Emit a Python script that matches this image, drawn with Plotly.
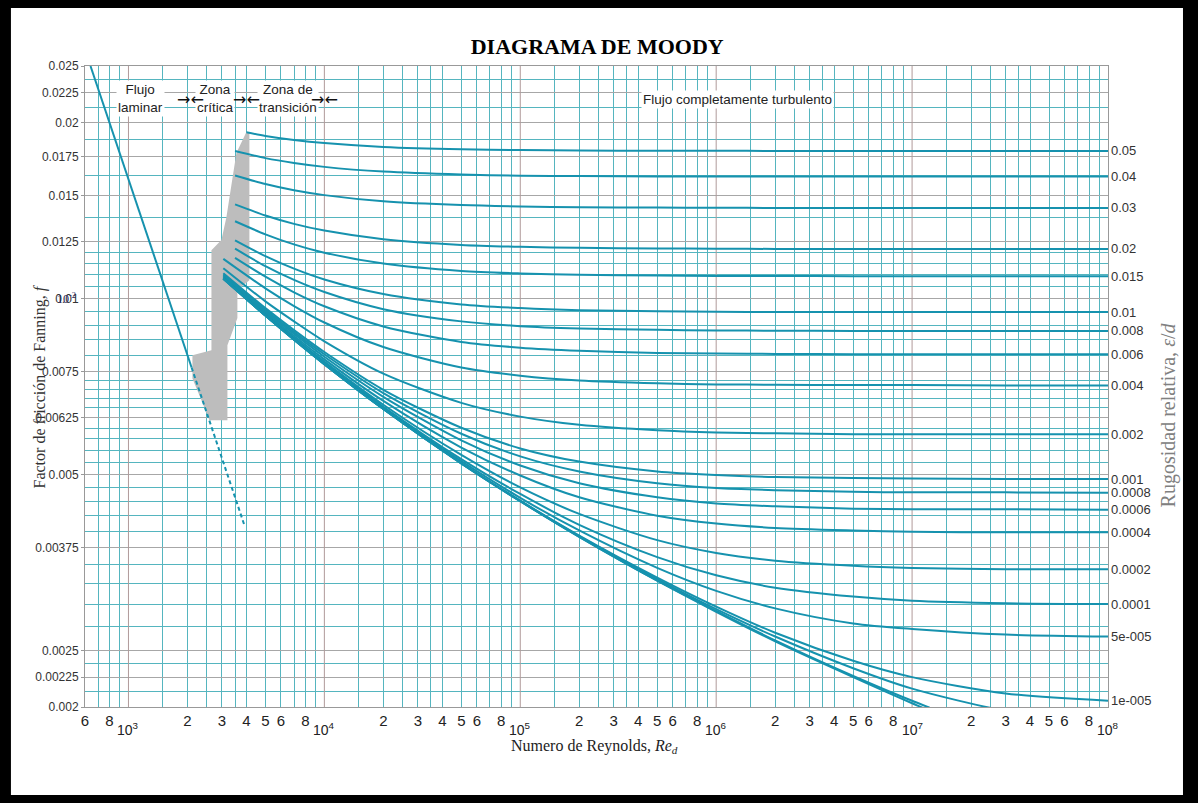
import math
import plotly.graph_objects as go

# ---------------- data ----------------
RE_GRID = [5e3, 7e3, 1e4, 2e4, 5e4, 1e5, 2e5, 5e5, 1e6, 2e6, 5e6, 1e7, 3e7, 1e8]

ROUGHNESS_LABELS = ["0.05", "0.04", "0.03", "0.02", "0.015", "0.01", "0.008", "0.006",
                    "0.004", "0.002", "0.001", "0.0008", "0.0006", "0.0004", "0.0002",
                    "0.0001", "5e-005", "1e-005", "", "", ""]
RE_START = [4000, 3500, 3500, 3500, 3500, 3500, 3500, 3500,
            3050, 3050, 3050, 3050, 3050, 3050, 3050, 3050, 3050, 3050, 3050, 3050, 3050]

# Fanning friction factor: first value at RE_START, then at RE_GRID
f_0_05 = [0.01925, 0.01898, 0.01868, 0.01845, 0.01817, 0.01800, 0.01795, 0.01792, 0.01790, 0.01790, 0.01789, 0.01789, 0.01789, 0.01789, 0.01789]
f_0_04 = [0.01788, 0.01739, 0.01706, 0.01680, 0.01649, 0.01630, 0.01623, 0.01620, 0.01618, 0.01617, 0.01617, 0.01617, 0.01617, 0.01617, 0.01617]
f_0_03 = [0.01624, 0.01570, 0.01532, 0.01503, 0.01467, 0.01445, 0.01437, 0.01433, 0.01431, 0.01430, 0.01429, 0.01429, 0.01429, 0.01429, 0.01429]
f_0_02 = [0.01449, 0.01387, 0.01342, 0.01307, 0.01263, 0.01235, 0.01226, 0.01221, 0.01218, 0.01217, 0.01216, 0.01216, 0.01216, 0.01216, 0.01216]
f_0_015 = [0.01356, 0.01288, 0.01238, 0.01198, 0.01148, 0.01115, 0.01104, 0.01098, 0.01095, 0.01093, 0.01093, 0.01092, 0.01092, 0.01092, 0.01092]
f_0_01 = [0.01258, 0.01182, 0.01125, 0.01078, 0.01018, 0.00977, 0.00963, 0.00955, 0.00951, 0.00949, 0.00948, 0.00948, 0.00948, 0.00948, 0.00948]
f_0_008 = [0.01217, 0.01136, 0.01076, 0.01026, 0.00959, 0.00914, 0.00897, 0.00889, 0.00884, 0.00882, 0.00881, 0.00880, 0.00880, 0.00880, 0.00880]
f_0_006 = [0.01174, 0.01090, 0.01025, 0.00970, 0.00896, 0.00843, 0.00824, 0.00814, 0.00807, 0.00805, 0.00804, 0.00803, 0.00803, 0.00803, 0.00803]
f_0_004 = [0.01169, 0.01041, 0.00971, 0.00910, 0.00826, 0.00762, 0.00738, 0.00724, 0.00716, 0.00713, 0.00712, 0.00711, 0.00711, 0.00710, 0.00710]
f_0_002 = [0.01127, 0.00989, 0.00914, 0.00845, 0.00744, 0.00663, 0.00628, 0.00608, 0.00595, 0.00590, 0.00588, 0.00586, 0.00586, 0.00586, 0.00586]
f_0_001 = [0.01105, 0.00963, 0.00883, 0.00810, 0.00698, 0.00601, 0.00554, 0.00526, 0.00506, 0.00499, 0.00495, 0.00493, 0.00492, 0.00491, 0.00491]
f_0_0008 = [0.01099, 0.00957, 0.00876, 0.00803, 0.00689, 0.00587, 0.00537, 0.00506, 0.00483, 0.00474, 0.00470, 0.00467, 0.00466, 0.00466, 0.00465]
f_0_0006 = [0.01095, 0.00951, 0.00870, 0.00795, 0.00679, 0.00572, 0.00518, 0.00483, 0.00457, 0.00446, 0.00441, 0.00437, 0.00436, 0.00436, 0.00435]
f_0_0004 = [0.01091, 0.00946, 0.00863, 0.00787, 0.00668, 0.00556, 0.00498, 0.00457, 0.00425, 0.00412, 0.00405, 0.00401, 0.00399, 0.00398, 0.00398]
f_0_0002 = [0.01086, 0.00941, 0.00857, 0.00780, 0.00658, 0.00540, 0.00475, 0.00428, 0.00386, 0.00367, 0.00356, 0.00349, 0.00346, 0.00344, 0.00344]
f_0_0001 = [0.01083, 0.00937, 0.00853, 0.00776, 0.00653, 0.00531, 0.00463, 0.00410, 0.00361, 0.00336, 0.00320, 0.00309, 0.00304, 0.00301, 0.00300]
f_5e_5 = [0.01082, 0.00936, 0.00852, 0.00774, 0.00650, 0.00527, 0.00456, 0.00401, 0.00346, 0.00316, 0.00295, 0.00278, 0.00272, 0.00266, 0.00264]
f_1e_5 = [0.01081, 0.00935, 0.00851, 0.00772, 0.00647, 0.00523, 0.00451, 0.00393, 0.00333, 0.00297, 0.00268, 0.00240, 0.00225, 0.00211, 0.00205]
f_5e_6 = [0.01081, 0.00935, 0.00850, 0.00772, 0.00647, 0.00522, 0.00450, 0.00392, 0.00331, 0.00294, 0.00264, 0.00233, 0.00215, 0.00197, 0.00187]
f_1e_6 = [0.01082, 0.00935, 0.00850, 0.00772, 0.00647, 0.00522, 0.00450, 0.00391, 0.00329, 0.00292, 0.00260, 0.00226, 0.00205, 0.00179, 0.00170]
f_smooth = [0.01082, 0.00935, 0.00850, 0.00772, 0.00647, 0.00522, 0.00450, 0.00391, 0.00329, 0.00291, 0.00259, 0.00225, 0.00203, 0.00174, 0.00155]

CURVES = [f_0_05, f_0_04, f_0_03, f_0_02, f_0_015, f_0_01, f_0_008, f_0_006,
          f_0_004, f_0_002, f_0_001, f_0_0008, f_0_0006, f_0_0004, f_0_0002,
          f_0_0001, f_5e_5, f_1e_5, f_5e_6, f_1e_6, f_smooth]

# laminar flow line (solid, then dashed)
LAMINAR_RE = [640, 2100]
LAMINAR_F = [0.025, 0.00762]
LAMINAR_DASH_RE = [2100, 3900]
LAMINAR_DASH_F = [0.00762, 0.0041]

# grey critical-zone band
CRIT_RE = [4000, 4143, 4143, 3598, 3598, 3200, 3200, 2590, 2302, 2121, 2121, 2652, 2652, 2982, 3162, 3394, 3556]
CRIT_F = [0.01927, 0.01927, 0.01075, 0.01034, 0.00926, 0.00832, 0.00619, 0.00619, 0.00683, 0.0073, 0.0080, 0.00816, 0.0121, 0.01259, 0.01378, 0.01595, 0.01774]

# axes
Y_TICK_VALS = [0.002, 0.00225, 0.0025, 0.00375, 0.005, 0.00625, 0.0075, 0.01, 0.0125, 0.015, 0.0175, 0.02, 0.0225, 0.025]
Y_TICK_TEXT = ["0.002", "0.00225", "0.0025", "0.00375", "0.005", "0.00625", "0.0075", "0.01",
               "0.0125", "0.015", "0.0175", "0.02", "0.0225", "0.025"]
Y_MINOR_GRID = [0.002125, 0.002375, 0.00275, 0.003, 0.00325, 0.0035, 0.004, 0.00425, 0.0045, 0.00475,
                0.00525, 0.0055, 0.00575, 0.006, 0.0065, 0.00675, 0.007, 0.00725, 0.008, 0.0085,
                0.009, 0.0095, 0.0105, 0.011, 0.0115, 0.012, 0.01375, 0.01625, 0.01875, 0.02125, 0.02375]

X_DECADES = [1e2, 1e3, 1e4, 1e5, 1e6, 1e7]
X_LABEL_MANTISSA = [2, 3, 4, 5, 6, 8]
X_GRID_MANTISSA = [1.5, 2.5, 3.5, 7, 9]
DECADE_EXPONENTS = [3, 4, 5, 6, 7, 8]

# ---------------- styling ----------------
TEAL_GRID = "#55b5bf"
GREY_GRID = "#a7a7a7"
DECADE_GRID = "#b09a9a"
CURVE = "#1692ae"
SANS = "Liberation Sans, Arial, sans-serif"
SERIF = "Liberation Serif, Times New Roman, serif"

x_tick_vals, x_tick_text, x_minor = [], [], []
for d in X_DECADES:
    for m in X_LABEL_MANTISSA:
        v = m * d
        if 600 <= v <= 1e8:
            x_tick_vals.append(v)
            x_tick_text.append(str(m))
    for m in X_GRID_MANTISSA:
        v = m * d
        if 600 < v < 1e8:
            x_minor.append(v)

fig = go.Figure()

fig.add_trace(go.Scatter(x=CRIT_RE, y=CRIT_F, mode="lines", fill="toself",
                         fillcolor="#bdbdbd", line=dict(width=0), hoverinfo="skip"))

for start, fvals in zip(RE_START, CURVES):
    fig.add_trace(go.Scatter(x=[start] + RE_GRID, y=fvals, mode="lines",
                             line=dict(color=CURVE, width=2, shape="spline", smoothing=0.8)))

fig.add_trace(go.Scatter(x=LAMINAR_RE, y=LAMINAR_F, mode="lines",
                         line=dict(color=CURVE, width=2)))
fig.add_trace(go.Scatter(x=LAMINAR_DASH_RE, y=LAMINAR_DASH_F, mode="lines",
                         line=dict(color=CURVE, width=2, dash="4px,3px")))

shapes = [dict(type="rect", xref="paper", yref="paper",
               x0=-0.0724, x1=1.0733, y0=-0.1373, y1=1.0905,
               fillcolor="white", line=dict(width=0), layer="below")]
for e in DECADE_EXPONENTS[:-1]:
    shapes.append(dict(type="line", xref="x", yref="y", x0=10 ** e, x1=10 ** e,
                       y0=0.002, y1=0.025, line=dict(color=DECADE_GRID, width=1), layer="between"))

annotations = []
# right-hand roughness labels
for lab, fvals in zip(ROUGHNESS_LABELS, CURVES):
    if lab:
        annotations.append(dict(x=8, y=math.log10(fvals[-1]), xref="x", yref="y", text=lab,
                                showarrow=False, xanchor="left", yanchor="middle", xshift=1,
                                font=dict(family=SANS, size=13, color="#333333")))
# decade labels under the x axis
for e in DECADE_EXPONENTS:
    annotations.append(dict(x=e, y=0, xref="x", yref="paper", text="10<sup>%d</sup>" % e,
                            showarrow=False, xanchor="center", yanchor="top", yshift=-11,
                            font=dict(family=SANS, size=14, color="#222222")))
# overlapping 10^-2 label on y axis
annotations.append(dict(x=0, y=-2, xref="paper", yref="y", text="10<sup>-2</sup>",
                        showarrow=False, xanchor="right", yanchor="middle", xshift=-7,
                        font=dict(family=SERIF, size=12, color="#1c1c5a")))
# zone labels
zone_font = dict(family=SANS, size=13.5, color="#222222")
annotations += [
    dict(x=3.061, y=-1.657, xref="x", yref="y", text="Flujo<br>laminar", showarrow=False,
         bgcolor="white", font=zone_font),
    dict(x=3.444, y=-1.657, xref="x", yref="y", text="Zona<br>crítica", showarrow=False,
         bgcolor="white", font=zone_font),
    dict(x=3.816, y=-1.657, xref="x", yref="y", text="Zona de<br>transición", showarrow=False,
         bgcolor="white", font=zone_font),
    dict(x=6.107, y=-1.660, xref="x", yref="y", text="Flujo completamente turbulento",
         showarrow=False, bgcolor="white", font=zone_font),
]
for ax_x in [3.316, 3.602, 4.0]:
    annotations.append(dict(x=ax_x, y=-1.660, xref="x", yref="y", text="→←", showarrow=False,
                            font=dict(family="DejaVu Sans", size=16, color="#111111")))
# axis titles
annotations += [
    dict(x=0.4985, y=-0.061, xref="paper", yref="paper", xanchor="center", yanchor="middle",
         text="Numero de Reynolds, <i>Re</i><sub><i>d</i></sub>", showarrow=False,
         font=dict(family=SERIF, size=16, color="#222222")),
    dict(x=-0.044, y=0.50, xref="paper", yref="paper", xanchor="center", yanchor="middle",
         textangle=-90,
         text="Factor de fricción de Fanning, <i>f</i>", showarrow=False,
         font=dict(family=SERIF, size=16, color="#333333")),
    dict(x=1.0587, y=0.455, xref="paper", yref="paper", xanchor="center", yanchor="middle",
         textangle=-90,
         text="Rugosidad relativa, <i>ε</i>/<i>d</i>", showarrow=False,
         font=dict(family=SERIF, size=20, color="#808080")),
]

fig.update_layout(
    width=1198, height=803, autosize=False,
    margin=dict(l=85, r=90, t=66, b=96),
    paper_bgcolor="black", plot_bgcolor="white",
    showlegend=False,
    title=dict(text="<b>DIAGRAMA DE MOODY</b>", x=0.4985, y=1 - 46 / 803,
               xanchor="center", yanchor="middle",
               font=dict(family=SERIF, size=22, color="black")),
    shapes=shapes, annotations=annotations,
    xaxis=dict(type="log", range=[math.log10(600), 8], tickmode="array",
               tickvals=x_tick_vals, ticktext=x_tick_text, ticks="",
               showgrid=True, gridcolor=TEAL_GRID, gridwidth=1,
               minor=dict(tickmode="array", tickvals=x_minor, showgrid=True,
                          gridcolor=TEAL_GRID, gridwidth=1, ticks=""),
               tickfont=dict(family=SANS, size=15, color="#222222"),
               showline=True, linecolor="#999999", linewidth=1, mirror=True, zeroline=False),
    yaxis=dict(type="log", range=[math.log10(0.002), math.log10(0.025)], tickmode="array",
               tickvals=Y_TICK_VALS, ticktext=Y_TICK_TEXT, ticks="outside", ticklen=3,
               tickcolor="#999999",
               showgrid=True, gridcolor=GREY_GRID, gridwidth=1,
               minor=dict(tickmode="array", tickvals=Y_MINOR_GRID, showgrid=True,
                          gridcolor=TEAL_GRID, gridwidth=1, ticks=""),
               tickfont=dict(family=SANS, size=12, color="#333333"),
               showline=True, linecolor="#999999", linewidth=1, mirror=True, zeroline=False),
)

fig.write_html("out.html")
